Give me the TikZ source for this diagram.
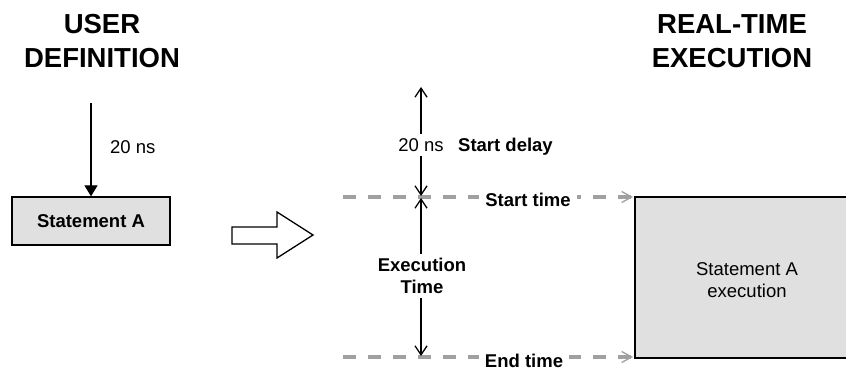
\documentclass[tikz,border=0pt]{standalone}
\usepackage{fontspec}
\setmainfont{Liberation Sans}
\usetikzlibrary{arrows.meta}
\definecolor{boxgray}{HTML}{E0E0E0}
\definecolor{dashgray}{HTML}{A0A0A0}
\begin{document}
\begin{tikzpicture}[x=1pt,y=-1pt,
  txt/.style={font=\fontsize{18.5}{22}\selectfont, inner sep=0pt, align=center},
  btxt/.style={font=\fontsize{18.5}{22}\selectfont\bfseries, inner sep=0pt, align=center},
  title/.style={font=\fontsize{27.5}{34}\selectfont\bfseries, align=center, inner sep=0pt},
  gline/.style={draw=dashgray, line width=3.2pt, dash pattern=on 13pt off 12pt,
    -{Straight Barb[length=10pt,width=11pt,line width=1.3pt]}},
  darrow/.style={line width=1.3pt,
    {Straight Barb[length=9pt,width=12pt]}-{Straight Barb[length=9pt,width=12pt]}},
  cut/.style={fill=white, inner sep=5pt},
  boxstyle/.style={draw, fill=boxgray, line width=1.3pt},
]
\useasboundingbox (0,0) rectangle (846,371);
\clip (0,0) rectangle (846,371);

% titles
\node[title] (t1) at (102,41) {USER\\DEFINITION};
\node[title] (t2) at (732,41) {REAL-TIME\\EXECUTION};

% left side
\node[boxstyle, btxt, minimum width=158pt, minimum height=48pt] (a) at (91,221) {Statement A};
\coordinate (a0) at (91,103);
\draw[line width=1.3pt, -{Triangle[length=11pt,width=13pt]}] (a0) -- (a.north);
\node[txt, anchor=west] (d1) at (110,147) {20 ns};

% hollow arrow
\draw[line width=1.3pt, fill=white] (232,227) -- (277,227) -- (277,212) -- (313,235)
  -- (277,258) -- (277,244) -- (232,244) -- cycle;

% right box
\node[boxstyle, minimum width=230pt, minimum height=161pt] (b) at (750,277.5) {};
\node[txt] (bt) at (747,280) {Statement A\\execution};

% dashed time lines
\coordinate (sl) at (343,197);
\coordinate (slend) at (633,197);
\coordinate (el) at (343,357);
\coordinate (elend) at (633,357);
\draw[gline] (sl) -- (slend);
\draw[gline] (el) -- (elend);
\node[btxt, cut, inner xsep=6pt] (st) at (528,200) {Start time};
\node[btxt, cut, inner xsep=6pt] (et) at (524,361) {End time};

% vertical measure arrows
\coordinate (top) at (421,87);
\coordinate (mid1) at (421,196);
\coordinate (mid2) at (421,198);
\coordinate (bot) at (421,356);
\draw[darrow] (top) -- (mid1);
\draw[darrow] (mid2) -- (bot);
\node[txt, cut, inner ysep=4pt, inner xsep=2pt] (d2) at (421,145) {20 ns};
\node[btxt, anchor=west] (sd) at (458,147) {Start delay};
\node[btxt, cut, inner ysep=4pt, inner xsep=2pt] (ex) at (422,276) {Execution\\Time};
\end{tikzpicture}
\end{document}
